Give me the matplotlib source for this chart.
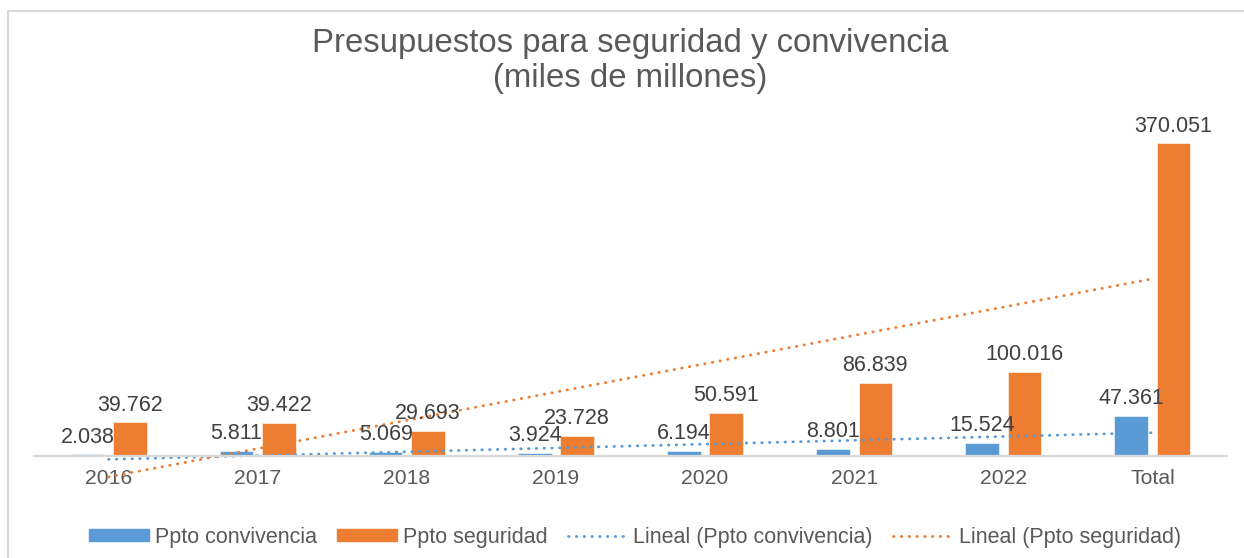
import numpy as np
import matplotlib.pyplot as plt
from matplotlib.patches import Rectangle
from matplotlib.lines import Line2D

plt.rcParams['font.family'] = ['Liberation Sans', 'DejaVu Sans']

# data (miles de millones)
categorias = ['2016', '2017', '2018', '2019', '2020', '2021', '2022', 'Total']
convivencia = [2038, 5811, 5069, 3924, 6194, 8801, 15524, 47361]
seguridad = [39762, 39422, 29693, 23728, 50591, 86839, 100016, 370051]

azul = '#5B9BD5'
naranja = '#ED7D31'
gris_txt = '#595959'

fig = plt.figure(figsize=(12.44, 5.58), dpi=100)
ax = fig.add_axes([34/1244, 0.107, (1227-34)/1244, 0.6815])

x = np.arange(len(categorias))
w = 0.225
off = 0.142
b1 = ax.bar(x - off, convivencia, w, color=azul, edgecolor='white', linewidth=0.4)
b2 = ax.bar(x + off, seguridad, w, color=naranja, edgecolor='white', linewidth=0.4)

def fmt(v):
    return '{:,}'.format(v).replace(',', '.')

for bars, vals in [(b1, convivencia), (b2, seguridad)]:
    for r, v in zip(bars, vals):
        ax.annotate(fmt(v), (r.get_x() + r.get_width()/2, v), xytext=(0, 8.5),
                    textcoords='offset points', ha='center', va='baseline',
                    fontsize=15.5, color='#404040')

# linear trendlines
dots = (0, (0.2, 2.6))
for vals, c in [(convivencia, azul), (seguridad, naranja)]:
    k, b = np.polyfit(x, vals, 1)
    ax.plot(x, k*x + b, color=c, linewidth=2.0, linestyle=dots,
            dash_capstyle='round')

ax.set_xlim(-0.5, len(categorias) - 0.5)
ax.set_ylim(-50000, 400000)
ax.set_yticks([])
for s in ['left', 'right', 'top']:
    ax.spines[s].set_visible(False)
ax.spines['bottom'].set_position(('data', 0))
ax.spines['bottom'].set_color('#d9d9d9')
ax.spines['bottom'].set_linewidth(1.6)
ax.set_xticks(x)
ax.set_xticklabels(categorias)
ax.tick_params(axis='x', length=0, pad=9, labelsize=15.2, labelcolor=gris_txt)
ax.set_facecolor('none')

fig.text(630/1244, 1 - 61/558, 'Presupuestos para seguridad y convivencia\n(miles de millones)',
         ha='center', va='center', fontsize=23.7, color=gris_txt, linespacing=1.18)

handles = [Rectangle((0, 0), 1, 1, color=azul), Rectangle((0, 0), 1, 1, color=naranja),
           Line2D([], [], color=azul, linewidth=2.0, linestyle=dots, dash_capstyle='round'),
           Line2D([], [], color=naranja, linewidth=2.0, linestyle=dots, dash_capstyle='round')]
labels = ['Ppto convivencia', 'Ppto seguridad', 'Lineal (Ppto convivencia)', 'Lineal (Ppto seguridad)']
fig.legend(handles, labels, loc='center', bbox_to_anchor=(635/1244, 1 - 537/558), ncol=4,
           frameon=False, fontsize=15.5, labelcolor=gris_txt, handlelength=2.8,
           handleheight=0.45, handletextpad=0.25, columnspacing=0.95)

# chart area border
fig.patches.append(Rectangle((8/1244, -0.1), 1.2, 1 - 11/558 + 0.1, transform=fig.transFigure,
                             fill=False, edgecolor='#d9d9d9', linewidth=1.5))

fig.savefig('out.png', dpi=100)
